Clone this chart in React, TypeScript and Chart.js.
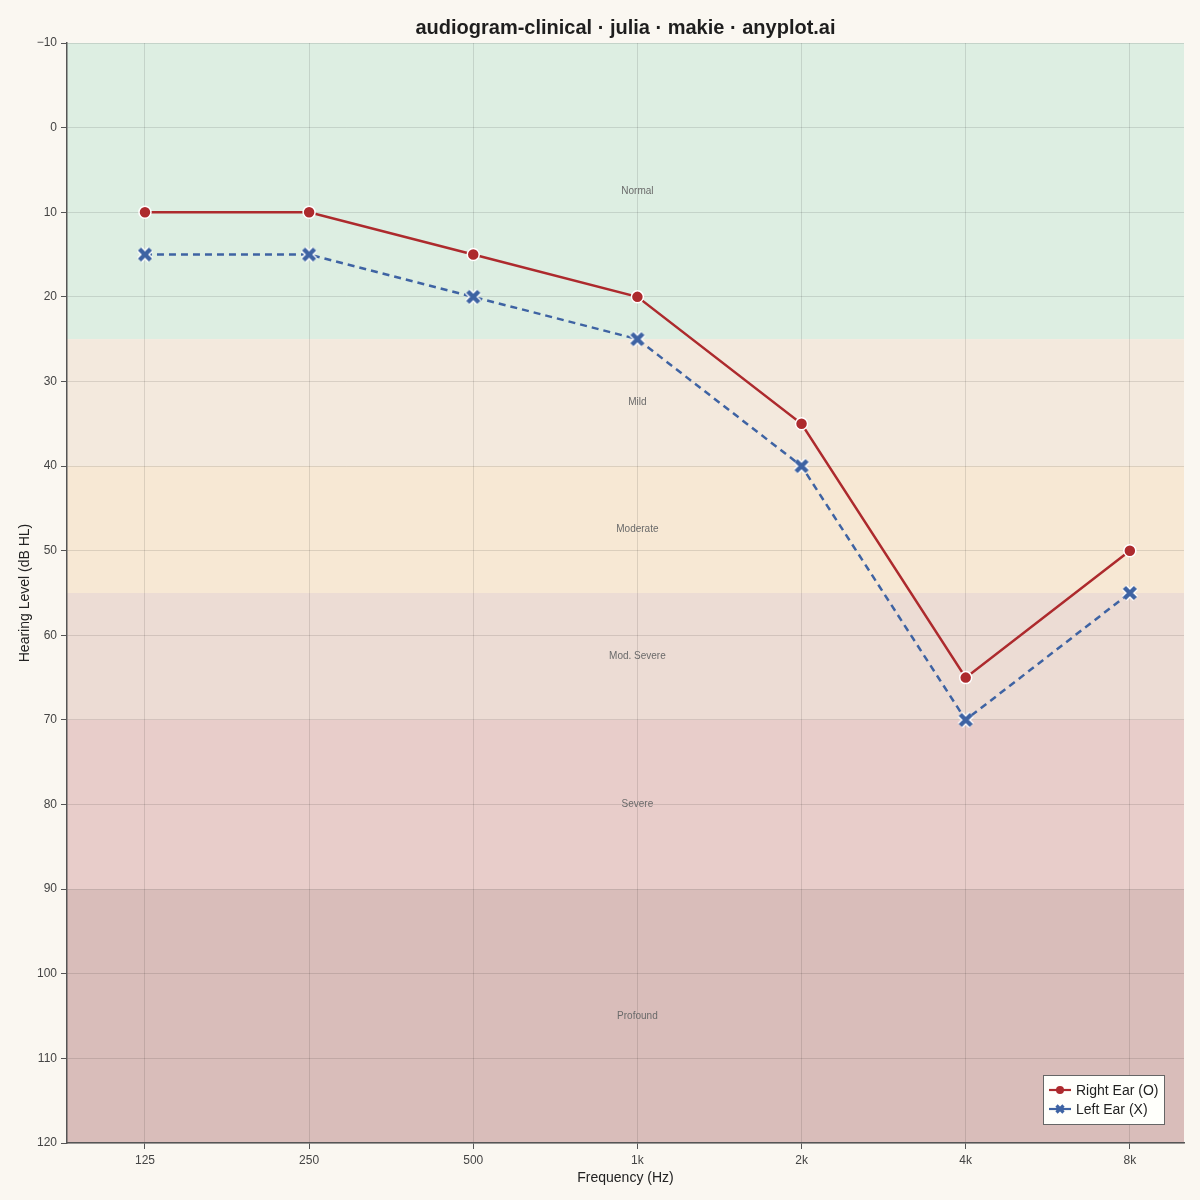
import { useEffect, useRef } from 'react';
import { Chart, registerables } from 'chart.js';

Chart.register(...registerables);

// audiogram data
const freqs = [125, 250, 500, 1000, 2000, 4000, 8000];
const freqLabels = ['125', '250', '500', '1k', '2k', '4k', '8k'];
const rightEar = [10, 10, 15, 20, 35, 65, 50];
const leftEar = [15, 15, 20, 25, 40, 70, 55];

// hearing loss bands (dB HL)
const bandNames = ['Normal', 'Mild', 'Moderate', 'Mod. Severe', 'Severe', 'Profound'];
const bandFrom = [-10, 25, 40, 55, 70, 90];
const bandTo = [25, 40, 55, 70, 90, 120];
const bandColors = ['#ddeee2', '#f3e9dd', '#f7e8d4', '#ecdcd4', '#e8cdca', '#d9bdba'];

const yTicks = [-10, 0, 10, 20, 30, 40, 50, 60, 70, 80, 90, 100, 110, 120];

const TITLE = 'audiogram-clinical · julia · makie · anyplot.ai';
const RED = '#ad2a2d';
const BLUE = '#3e63a3';
const FONT = '"Liberation Sans", Arial, sans-serif';

function crossImage(): HTMLCanvasElement {
  const c = document.createElement('canvas');
  c.width = 22;
  c.height = 22;
  const g = c.getContext('2d')!;
  const draw = (w: number, col: string) => {
    g.strokeStyle = col;
    g.lineWidth = w;
    g.lineCap = 'butt';
    g.beginPath();
    g.moveTo(5.5, 5.5); g.lineTo(16.5, 16.5);
    g.moveTo(16.5, 5.5); g.lineTo(5.5, 16.5);
    g.stroke();
  };
  draw(7, '#ffffff');
  draw(4.4, BLUE);
  return c;
}

const bandsPlugin = {
  id: 'bands',
  beforeDraw(chart: Chart) {
    const { ctx, chartArea: a, scales } = chart;
    const y = scales.y;
    ctx.save();
    ctx.fillStyle = '#faf7f1';
    ctx.fillRect(0, 0, chart.width, chart.height);
    bandNames.forEach((_, i) => {
      const y0 = y.getPixelForValue(bandFrom[i]);
      const y1 = y.getPixelForValue(bandTo[i]);
      ctx.fillStyle = bandColors[i];
      ctx.fillRect(a.left, y0, a.right - a.left, y1 - y0);
    });
    ctx.restore();
  },
  beforeDatasetsDraw(chart: Chart) {
    const { ctx, scales } = chart;
    const x = scales.x.getPixelForValue(1000);
    ctx.save();
    ctx.font = `10px ${FONT}`;
    ctx.fillStyle = '#6a6a6a';
    ctx.textAlign = 'center';
    ctx.textBaseline = 'middle';
    bandNames.forEach((n, i) => {
      const yy = scales.y.getPixelForValue((bandFrom[i] + bandTo[i]) / 2);
      ctx.fillText(n, x, yy);
    });
    ctx.restore();
  },
  afterDraw(chart: Chart) {
    const { ctx, chartArea: a } = chart;
    // title centred over the plot area
    ctx.save();
    ctx.font = `bold 20px ${FONT}`;
    ctx.fillStyle = '#1e1e1e';
    ctx.textAlign = 'center';
    ctx.textBaseline = 'middle';
    ctx.fillText(TITLE, (a.left + a.right) / 2, 28);

    // legend
    const w = 121, h = 49;
    const bx = a.right - 20 - w;
    const by = a.bottom - 19 - h;
    ctx.fillStyle = '#fffffb';
    ctx.strokeStyle = '#666';
    ctx.lineWidth = 1;
    ctx.fillRect(bx, by, w, h);
    ctx.strokeRect(bx + 0.5, by + 0.5, w, h);
    const rows = [
      { label: 'Right Ear (O)', color: RED, marker: 'circle' },
      { label: 'Left Ear (X)', color: BLUE, marker: 'cross' },
    ];
    rows.forEach((r, i) => {
      const ry = by + 15 + i * 19;
      ctx.strokeStyle = r.color;
      ctx.lineWidth = 2.2;
      ctx.beginPath();
      ctx.moveTo(bx + 6, ry);
      ctx.lineTo(bx + 28, ry);
      ctx.stroke();
      ctx.fillStyle = r.color;
      if (r.marker === 'circle') {
        ctx.beginPath();
        ctx.arc(bx + 17, ry, 4, 0, Math.PI * 2);
        ctx.fill();
      } else {
        ctx.lineWidth = 3.2;
        ctx.beginPath();
        ctx.moveTo(bx + 13.5, ry - 3.5); ctx.lineTo(bx + 20.5, ry + 3.5);
        ctx.moveTo(bx + 20.5, ry - 3.5); ctx.lineTo(bx + 13.5, ry + 3.5);
        ctx.stroke();
      }
      ctx.fillStyle = '#222';
      ctx.font = `14px ${FONT}`;
      ctx.textAlign = 'left';
      ctx.textBaseline = 'middle';
      ctx.fillText(r.label, bx + 33, ry + 1);
    });
    ctx.restore();
  },
};

export default function App() {
  const canvasRef = useRef<HTMLCanvasElement>(null);

  useEffect(() => {
    document.body.style.margin = '0';
    if (!canvasRef.current) return;
    const cross = crossImage();

    const chart = new Chart(canvasRef.current, {
      type: 'line',
      data: {
        datasets: [
          {
            label: 'Right Ear (O)',
            data: freqs.map((f, i) => ({ x: f, y: rightEar[i] })),
            borderColor: RED,
            backgroundColor: RED,
            borderWidth: 2.5,
            pointStyle: 'circle',
            pointRadius: 6,
            pointBorderColor: '#ffffff',
            pointBorderWidth: 1.5,
            pointBackgroundColor: RED,
            tension: 0,
          },
          {
            label: 'Left Ear (X)',
            data: freqs.map((f, i) => ({ x: f, y: leftEar[i] })),
            borderColor: BLUE,
            backgroundColor: BLUE,
            borderWidth: 2.5,
            borderDash: [7, 5],
            pointStyle: cross,
            pointRadius: 8,
            tension: 0,
          },
        ],
      },
      options: {
        responsive: false,
        animation: false,
        layout: { padding: { left: 0, right: 16, top: 43, bottom: 0 } },
        plugins: {
          legend: { display: false },
          tooltip: { enabled: false },
          title: { display: false },
        },
        scales: {
          x: {
            type: 'logarithmic',
            min: 125 * Math.pow(2, -0.475),
            max: 8000 * Math.pow(2, 0.33),
            afterBuildTicks: (s: any) => { s.ticks = freqs.map(v => ({ value: v })); },
            afterFit: (s: any) => { s.height = 57; },
            ticks: {
              color: '#444',
              font: { family: FONT, size: 12 },
              padding: 4,
              autoSkip: false,
              maxRotation: 0,
              callback: (v: any) => freqLabels[freqs.indexOf(Number(v))] ?? '',
            },
            grid: { color: 'rgba(0,0,0,0.11)', tickColor: '#555', tickLength: 6, lineWidth: 1 },
            border: { color: '#555', width: 1.5 },
            title: {
              display: true,
              text: 'Frequency (Hz)',
              color: '#222',
              font: { family: FONT, size: 14 },
              padding: { top: 0, bottom: 13 },
            },
          },
          y: {
            reverse: true,
            min: -10,
            max: 120,
            afterBuildTicks: (s: any) => { s.ticks = yTicks.map(v => ({ value: v })); },
            afterFit: (s: any) => { s.width = 67; },
            ticks: {
              color: '#444',
              font: { family: FONT, size: 12 },
              padding: 4,
              callback: (v: any) => (Number(v) < 0 ? '−' + Math.abs(Number(v)) : String(v)),
            },
            grid: { color: 'rgba(0,0,0,0.11)', tickColor: '#555', tickLength: 6, lineWidth: 1 },
            border: { color: '#555', width: 1.5 },
            title: {
              display: true,
              text: 'Hearing Level (dB HL)',
              color: '#222',
              font: { family: FONT, size: 14 },
              padding: { top: 17, bottom: 0 },
            },
          },
        },
      },
      plugins: [bandsPlugin],
    });

    return () => { chart.destroy(); };
  }, []);

  return (
    <div style={{ width: 1200, height: 1200 }}>
      <canvas ref={canvasRef} width={1200} height={1200} />
    </div>
  );
}
